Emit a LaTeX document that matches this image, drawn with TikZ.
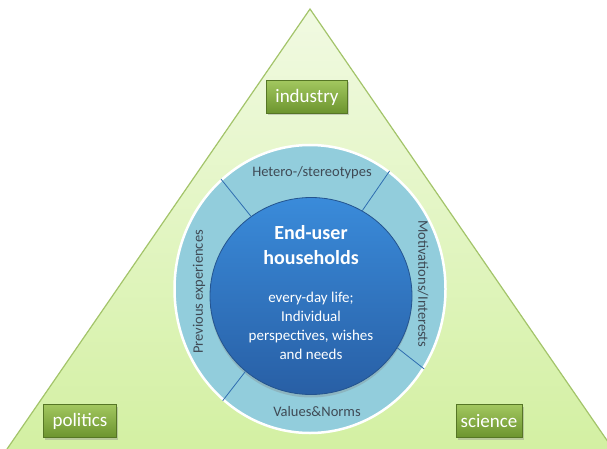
\documentclass[tikz,border=0pt]{standalone}
\usepackage{fontspec}
\setmainfont{Carlito}
\usetikzlibrary{shapes.geometric,shadows}

\definecolor{triline}{HTML}{A3C46A}
\definecolor{tritop}{HTML}{F1FAE2}
\definecolor{tribot}{HTML}{D3F0A2}
\definecolor{ringblue}{HTML}{92CDDC}
\definecolor{coretop}{HTML}{3A8BDA}
\definecolor{corebot}{HTML}{285FA5}
\definecolor{coreline}{HTML}{24548F}
\definecolor{boxtop}{HTML}{A2C75F}
\definecolor{boxbot}{HTML}{6C942E}
\definecolor{labelgray}{HTML}{3F4A55}
\definecolor{divblue}{HTML}{2F6DB0}

\tikzset{
  sector/.style={rectangle, top color=boxtop, bottom color=boxbot, draw=boxbot!80!black, line width=.3pt,
    text=white, font=\fontsize{19}{22}\selectfont, minimum width=73pt, minimum height=33pt, inner sep=0pt,
    drop shadow={shadow xshift=1.5pt, shadow yshift=-2pt, opacity=.35}},
  ringtext/.style={text=labelgray, font=\fontsize{14.5}{17}\selectfont, inner sep=0pt},
  divider/.style={draw=divblue, line width=.8pt}
}

\begin{document}
\begin{tikzpicture}[x=1pt,y=-1pt]
\useasboundingbox (0,0) rectangle (607,449);

% triangle behind everything
\begin{scope}
  \clip (0,0) rectangle (607,449);
  \draw[draw=triline, line width=1.2pt, top color=tritop, bottom color=tribot]
    (310,9) -- (5,452) -- (615,452) -- cycle;
\end{scope}

% ring and core
\node[ellipse, minimum width=271pt, minimum height=288pt, inner sep=0pt, fill=ringblue,
  draw=white, line width=2.5pt] (ring) at (310,289) {};
\node[ellipse, minimum width=202pt, minimum height=197pt, inner sep=0pt,
  top color=coretop, bottom color=corebot, draw=coreline, line width=.8pt,
  drop shadow={shadow xshift=0pt, shadow yshift=-3pt, opacity=.3}] (core) at (311,296) {};

% dividers in the ring
\path[divider] (core.127) -- (ring.129);
\path[divider] (core.59) -- (ring.56);
\path[divider] (core.-31) -- (ring.-35);
\path[divider] (core.-131) -- (ring.-128);

% ring labels
\node[ringtext] (hetero) at (312,173) {Hetero-/stereotypes};
\node[ringtext, rotate=90] (prev) at (199,292) {Previous experiences};
\node[ringtext, rotate=-90] (motiv) at (423,284) {Motivations/Interests};
\node[ringtext] (values) at (317,412) {Values\&Norms};

% core text
\node[text=white, align=center, font=\bfseries\fontsize{20}{25}\selectfont] (title) at (311,245) {End-user\\households};
\node[text=white, align=center, font=\fontsize{15}{19}\selectfont] (body) at (311,326)
  {every-day life;\\Individual\\perspectives, wishes\\and needs};

% actors
\node[sector, minimum width=81pt] (industry) at (307,97) {industry};
\node[sector] (politics) at (80,421) {politics};
\node[sector, minimum width=66pt] (science) at (489,421) {science};

\end{tikzpicture}
\end{document}
